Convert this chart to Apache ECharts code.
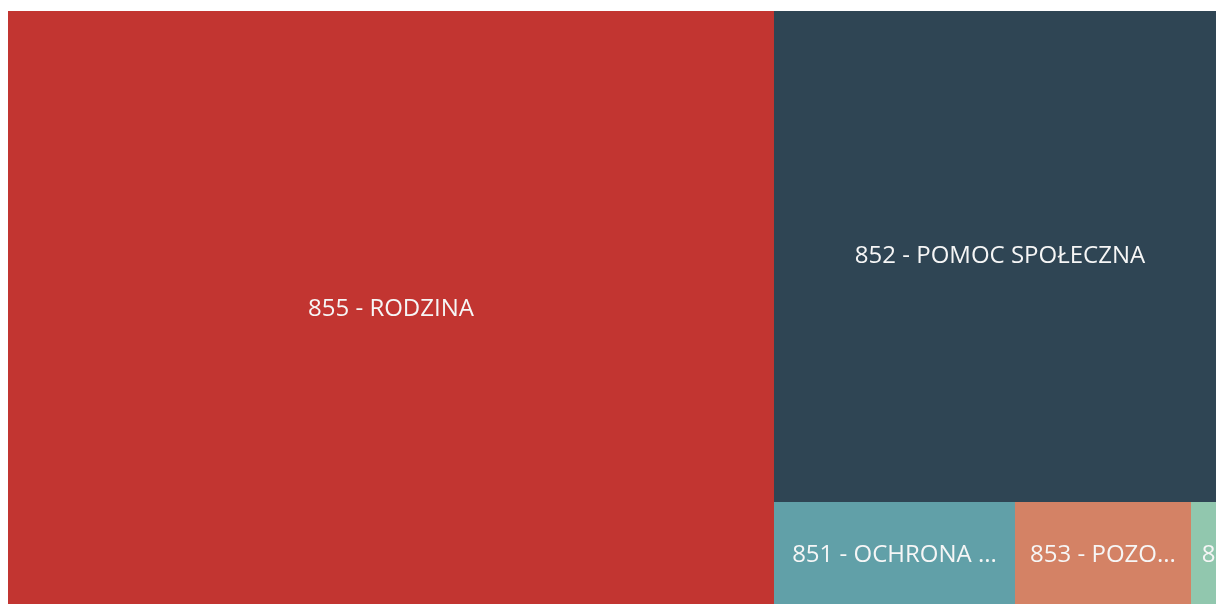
<!DOCTYPE html>
<html>
<head>
<meta charset="utf-8">
<script src="https://cdn.jsdelivr.net/npm/echarts@6/dist/echarts.min.js"></script>
<style>
  html, body { margin: 0; padding: 0; background: #fff; }
  #chart { width: 1216px; height: 604px; }
</style>
</head>
<body>
<div id="chart"></div>
<script>
// Budget sections (dział) and their amounts (thousand PLN)
const sections = [
  '855 - RODZINA',
  '852 - POMOC SPOŁECZNA',
  '851 - OCHRONA ZDROWIA',
  '853 - POZOSTAŁE ZADANIA W ZAKRESIE POLITYKI SPOŁECZNEJ',
  '854 - EDUKACYJNA OPIEKA WYCHOWAWCZA'
];
const amounts = [45730, 22193, 2555, 1866, 371];
const palette = ['#c23531', '#2f4554', '#61a0a8', '#d48265', '#91c7ae'];

const data = sections.map((name, i) => ({
  name: name,
  value: amounts[i],
  itemStyle: { color: palette[i] }
}));
// the narrowest tile keeps a thinner inner padding for its label
data[data.length - 1].label = { padding: [14, 8] };

const chart = echarts.init(document.getElementById('chart'), null, { renderer: 'canvas' });
chart.setOption({
  animation: false,
  series: [{
    type: 'treemap',
    left: 8,
    top: 11,
    width: 1218,
    height: 597,
    roam: false,
    nodeClick: false,
    breadcrumb: { show: false },
    itemStyle: { borderWidth: 0, gapWidth: 0 },
    label: {
      show: true,
      position: 'inside',
      color: '#f6f6f6',
      fontFamily: 'Open Sans',
      fontSize: 24,
      padding: 14,
      overflow: 'truncate',
      ellipsis: '...'
    },
    data: data
  }]
});
</script>
</body>
</html>
